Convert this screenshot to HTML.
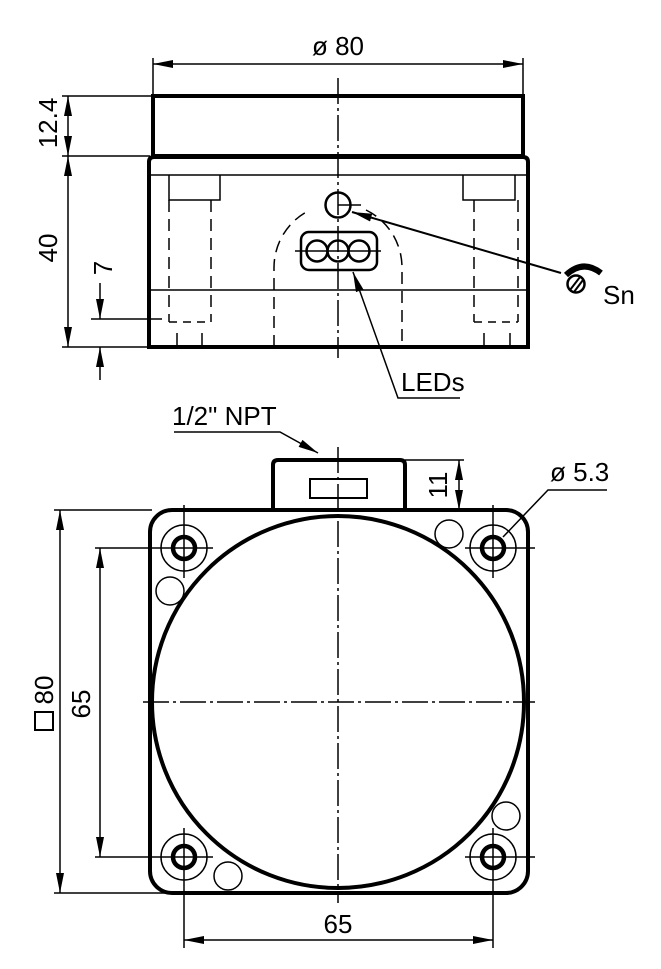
<!DOCTYPE html>
<html><head><meta charset="utf-8"><style>
html,body{margin:0;padding:0;background:#fff}
svg{display:block}
text{font-family:"Liberation Sans",Arial,sans-serif;font-size:26px;fill:#000}
</style></head><body>
<svg width="661" height="969" viewBox="0 0 661 969" xmlns="http://www.w3.org/2000/svg">
<defs>
<marker id="a" viewBox="0 0 20 8" refX="20" refY="4" markerWidth="20" markerHeight="8" orient="auto-start-reverse" markerUnits="userSpaceOnUse"><path d="M0,0 L20,4 L0,8 z" fill="#000"/></marker>
</defs>
<g stroke="#000" fill="none">
<line x1="153" y1="58" x2="153" y2="96" stroke-width="1.5"/>
<line x1="523" y1="58" x2="523" y2="96" stroke-width="1.5"/>
<line x1="153" y1="64" x2="523" y2="64" stroke-width="1.5" marker-start="url(#a)" marker-end="url(#a)"/>
<rect x="153" y="96" width="370" height="60" stroke-width="4"/>
<path d="M149,347 V162 Q149,157 154,157 H523 Q528,157 528,162 V347 Z" stroke-width="4"/>
<line x1="149" y1="175" x2="528" y2="175" stroke-width="1.5"/>
<line x1="149" y1="290" x2="528" y2="290" stroke-width="1.5"/>
<path d="M169,175 V200 H220 V175" stroke-width="1.5"/>
<path d="M463,175 V200 H515 V175" stroke-width="1.5"/>
<g stroke-width="1.5" stroke-dasharray="12,7">
<line x1="169" y1="200" x2="169" y2="322"/>
<line x1="211" y1="200" x2="211" y2="322"/>
<line x1="474" y1="200" x2="474" y2="322"/>
<line x1="518" y1="200" x2="518" y2="322"/>
<path d="M274,347 V268 A64,64 0 0 1 310,210"/>
<path d="M366,210 A64,64 0 0 1 402,268 V347"/>
</g>
<line x1="169" y1="322" x2="211" y2="322" stroke-width="1.5" stroke-dasharray="8,6"/>
<line x1="474" y1="322" x2="518" y2="322" stroke-width="1.5" stroke-dasharray="8,6"/>
<g stroke-width="1.5">
<line x1="177" y1="333" x2="177" y2="347"/><line x1="202" y1="333" x2="202" y2="347"/>
<line x1="484" y1="333" x2="484" y2="347"/><line x1="510" y1="333" x2="510" y2="347"/>
</g>
<circle cx="338" cy="205" r="12.5" stroke-width="2.5"/>
<line x1="338" y1="205" x2="361" y2="205" stroke-width="1.5"/>
<rect x="301" y="232" width="76" height="38" rx="8" stroke-width="2.5"/>
<circle cx="317" cy="251" r="10.5" stroke-width="2.5"/>
<circle cx="338" cy="251" r="10.5" stroke-width="2.5"/>
<circle cx="359" cy="251" r="10.5" stroke-width="2.5"/>
<line x1="295" y1="251" x2="381" y2="251" stroke-width="1.5"/>
<line x1="338" y1="78" x2="338" y2="358" stroke-width="1.5" stroke-dasharray="26,4,3,4"/>
<line x1="561" y1="273" x2="352" y2="212" stroke-width="2" marker-end="url(#a)"/>
<circle cx="576" cy="284" r="8.5" stroke-width="2.5"/>
<line x1="570" y1="290" x2="580" y2="277" stroke-width="2"/>
<line x1="574" y1="292" x2="583" y2="280" stroke-width="2"/>
<path d="M566,275 Q583,259 601,273" stroke-width="6"/>
<path d="M460,398 H398 L353,272" stroke-width="1.5" marker-end="url(#a)"/>
<line x1="62" y1="96" x2="153" y2="96" stroke-width="1.5"/>
<line x1="62" y1="156" x2="150" y2="156" stroke-width="1.5"/>
<line x1="62" y1="347" x2="149" y2="347" stroke-width="1.5"/>
<line x1="68" y1="96" x2="68" y2="156" stroke-width="1.5" marker-start="url(#a)" marker-end="url(#a)"/>
<line x1="68" y1="156" x2="68" y2="347" stroke-width="1.5" marker-start="url(#a)" marker-end="url(#a)"/>
<line x1="91" y1="319" x2="162" y2="319" stroke-width="1.5"/>
<line x1="100" y1="283" x2="100" y2="319" stroke-width="1.5" marker-end="url(#a)"/>
<line x1="100" y1="380" x2="100" y2="347" stroke-width="1.5" marker-end="url(#a)"/>

<path d="M174,432 H280 L318,453" stroke-width="1.5" marker-end="url(#a)"/>
<path d="M273,510 V465 Q273,460 278,460 H400 Q405,460 405,465 V510" stroke-width="4"/>
<rect x="310" y="479" width="57" height="19" stroke-width="2"/>
<line x1="405" y1="460" x2="464" y2="460" stroke-width="1.5"/>
<line x1="459" y1="460" x2="459" y2="510" stroke-width="1.5" marker-start="url(#a)" marker-end="url(#a)"/>
<rect x="150" y="510" width="378" height="383" rx="22" stroke-width="4"/>
<circle cx="338" cy="702" r="186" stroke-width="4"/>
<g>
<circle cx="184" cy="548" r="23" stroke-width="1.5"/><circle cx="184" cy="548" r="11" stroke-width="4.5"/>
<circle cx="493" cy="548" r="23" stroke-width="1.5"/><circle cx="493" cy="548" r="11" stroke-width="4.5"/>
<circle cx="184" cy="857" r="23" stroke-width="1.5"/><circle cx="184" cy="857" r="11" stroke-width="4.5"/>
<circle cx="493" cy="857" r="23" stroke-width="1.5"/><circle cx="493" cy="857" r="11" stroke-width="4.5"/>
</g>
<g stroke-width="1.5">
<line x1="184" y1="505" x2="184" y2="578"/><line x1="95" y1="548" x2="213" y2="548"/>
<line x1="493" y1="505" x2="493" y2="578"/><line x1="465" y1="548" x2="535" y2="548"/>
<line x1="184" y1="828" x2="184" y2="948"/><line x1="95" y1="857" x2="213" y2="857"/>
<line x1="493" y1="828" x2="493" y2="948"/><line x1="465" y1="857" x2="535" y2="857"/>
</g>
<circle cx="170" cy="591" r="14" stroke-width="1.5"/>
<circle cx="449" cy="534" r="14" stroke-width="1.5"/>
<circle cx="506" cy="816" r="14" stroke-width="1.5"/>
<circle cx="228" cy="876" r="14" stroke-width="1.5"/>
<line x1="338" y1="447" x2="338" y2="903" stroke-width="1.5" stroke-dasharray="26,4,3,4"/>
<line x1="143" y1="702" x2="535" y2="702" stroke-width="1.5" stroke-dasharray="26,4,3,4"/>
<line x1="54" y1="510" x2="152" y2="510" stroke-width="1.5"/>
<line x1="54" y1="893" x2="170" y2="893" stroke-width="1.5"/>
<line x1="60" y1="510" x2="60" y2="893" stroke-width="1.5" marker-start="url(#a)" marker-end="url(#a)"/>
<line x1="100" y1="548" x2="100" y2="857" stroke-width="1.5" marker-start="url(#a)" marker-end="url(#a)"/>
<line x1="184" y1="940" x2="493" y2="940" stroke-width="1.5" marker-start="url(#a)" marker-end="url(#a)"/>
<path d="M607,490 H548 L503,537" stroke-width="1.5"/>
<rect x="35" y="712" width="18" height="18" stroke-width="2"/>
</g>
<text x="338" y="55" text-anchor="middle">ø 80</text>
<text transform="translate(57,123) rotate(-90)" text-anchor="middle">12.4</text>
<text transform="translate(57,248) rotate(-90)" text-anchor="middle">40</text>
<text transform="translate(112,268) rotate(-90)" text-anchor="middle">7</text>
<text x="603" y="304">Sn</text>
<text x="401" y="391">LEDs</text>
<text x="172" y="425">1/2" NPT</text>
<text transform="translate(447,485) rotate(-90)" text-anchor="middle">11</text>
<text x="550" y="481">ø 5.3</text>
<text transform="translate(53,690) rotate(-90)" text-anchor="middle">80</text>
<text transform="translate(90,704) rotate(-90)" text-anchor="middle">65</text>
<text x="338" y="933" text-anchor="middle">65</text>
</svg>
</body></html>
